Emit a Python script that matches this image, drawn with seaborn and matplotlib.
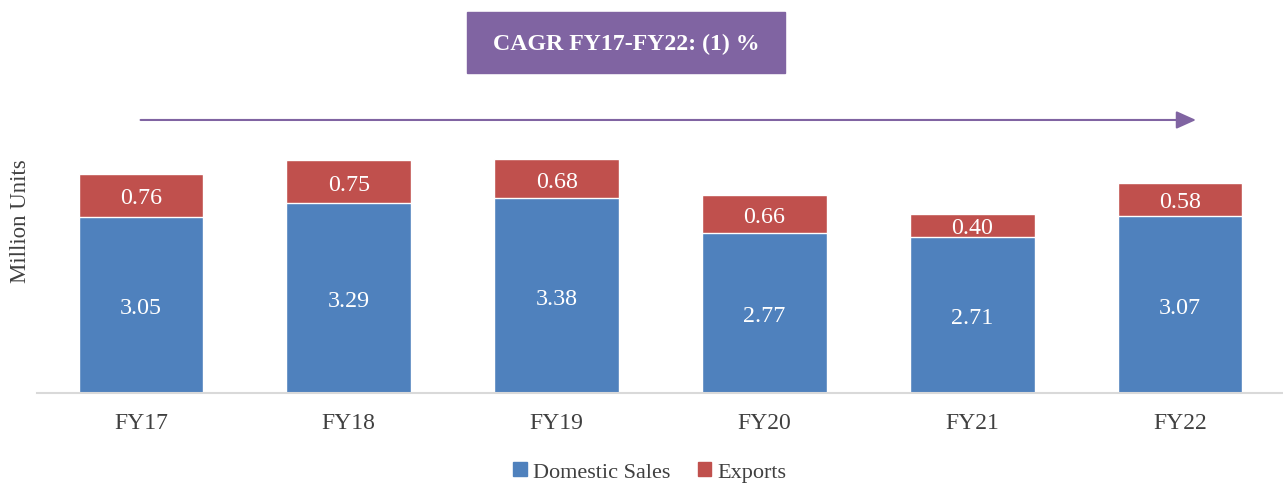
import pandas as pd
import numpy as np
import seaborn as sns
import matplotlib.pyplot as plt
from matplotlib.patches import Patch

years = ["FY17", "FY18", "FY19", "FY20", "FY21", "FY22"]
domestic = [3.05, 3.29, 3.38, 2.77, 2.71, 3.07]
exports = [0.76, 0.75, 0.68, 0.66, 0.40, 0.58]

blue = "#4F81BD"
red = "#C0504D"
purple = "#8064A2"

sns.set_theme(style="white")
plt.rcParams["font.family"] = ["Liberation Serif", "DejaVu Serif"]

df = pd.DataFrame({"Year": years, "Domestic": domestic, "Exports": exports})
df["Total"] = df["Domestic"] + df["Exports"]

fig = plt.figure(figsize=(12.83, 4.85), dpi=100)
ax = fig.add_axes([37 / 1283, 91 / 485, 1247 / 1283, 394 / 485])

# stacked bars: totals in red, domestic drawn over them
sns.barplot(data=df, x="Year", y="Total", color=red, width=0.6, saturation=1, ax=ax)
sns.barplot(data=df, x="Year", y="Domestic", color=blue, width=0.6, saturation=1, ax=ax)

for i, (d, e) in enumerate(zip(domestic, exports)):
    ax.text(i, d / 2, f"{d:.2f}", ha="center", va="center_baseline", color="white", fontsize=17.3)
    ax.text(i, d + e / 2, f"{e:.2f}", ha="center", va="center_baseline", color="white", fontsize=17.3)

ax.set_xlim(-0.5, 5.5)
ax.set_ylim(0, 394 / 57.6)
ax.set_yticks([])
ax.set_xlabel("")
ax.set_ylabel("Million Units", fontsize=16.5, color="#404040")
ax.yaxis.set_label_coords(-0.0045, 0.44)
ax.tick_params(axis="x", labelsize=17, colors="#404040", length=0, pad=14)
for s in ["top", "right", "left"]:
    ax.spines[s].set_visible(False)
ax.spines["bottom"].set_color("#D9D9D9")
ax.spines["bottom"].set_linewidth(1.5)

# CAGR arrow
ax.annotate("", xy=(5.09, 4.74), xytext=(-0.015, 4.74),
            arrowprops=dict(arrowstyle="-|>,head_length=1.0,head_width=0.45",
                            color=purple, lw=1.5))

# CAGR box
fig.text(626 / 1283, 1 - 44 / 485, "CAGR FY17-FY22: (1) %", ha="center", va="center",
         fontsize=17.2, fontweight="bold", color="white")
fig.patches.append(plt.Rectangle((467 / 1283, 1 - 74 / 485), 318 / 1283, 61 / 485,
                                 transform=fig.transFigure, color=purple, zorder=0))

handles = [Patch(color=blue, label="Domestic Sales"), Patch(color=red, label="Exports")]
fig.legend(handles=handles, loc="center", bbox_to_anchor=(650 / 1283, 1 - 473 / 485),
           ncol=2, frameon=False, fontsize=16, handlelength=0.6, handleheight=0.6,
           handletextpad=0.3, columnspacing=1.2, labelcolor="#404040")

fig.savefig("out.png", dpi=100)
